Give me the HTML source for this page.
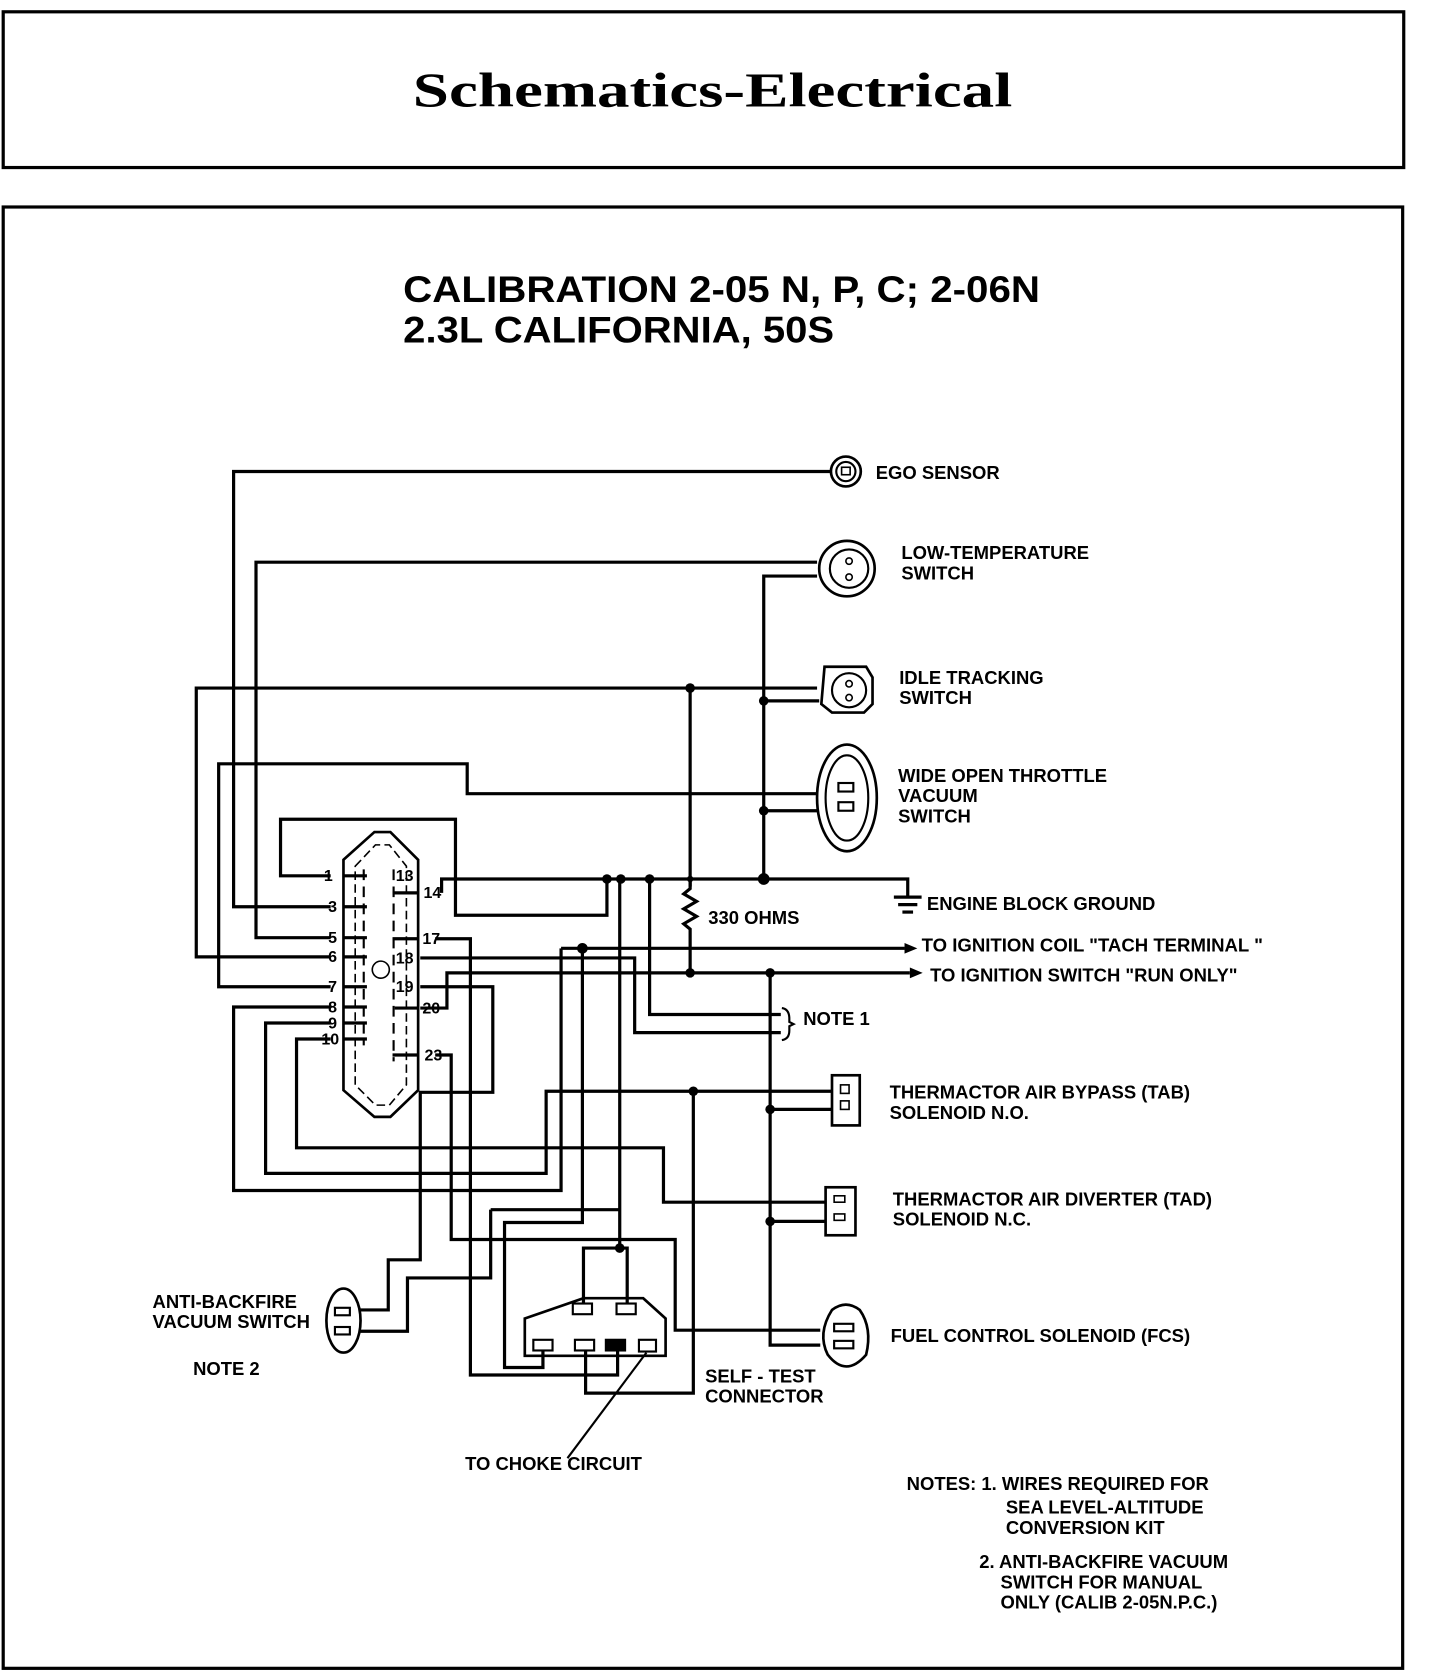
<!DOCTYPE html>
<html><head><meta charset="utf-8"><style>
html,body{margin:0;padding:0;background:#fff;}
svg{display:block}
text{font-family:"Liberation Sans",sans-serif;font-weight:bold;fill:#000}
</style></head><body>
<svg width="1440" height="1678" viewBox="0 0 1350 1573" xmlns="http://www.w3.org/2000/svg">
<rect x="0" y="0" width="1350" height="1573" fill="#fff"/>
<g fill="none" stroke="#000" stroke-width="3">
<rect x="3" y="11" width="1313" height="146"/>
<rect x="3" y="194" width="1312" height="1370"/>
</g>
<text x="668" y="100" text-anchor="middle" style="font-family:'Liberation Serif',serif;font-size:46px" textLength="562" lengthAdjust="spacingAndGlyphs">Schematics-Electrical</text>
<text x="378" y="283" style="font-size:35px" textLength="597" lengthAdjust="spacingAndGlyphs">CALIBRATION 2-05 N, P, C; 2-06N</text>
<text x="378" y="321" style="font-size:35px" textLength="404" lengthAdjust="spacingAndGlyphs">2.3L CALIFORNIA, 50S</text>

<g fill="none" stroke="#000" stroke-width="3" stroke-linejoin="miter">
<polyline points="310,821 263,821 263,768 427,768 427,858 569,858 569,824"/>
<polyline points="414,837 414,824 851,824 851,841"/>
<polyline points="310,850 219,850 219,442 780,442"/>
<polyline points="310,879 240,879 240,527 766,527"/>
<polyline points="766,540 716,540 716,824"/>
<polyline points="310,897 184,897 184,645 766,645"/>
<polyline points="716,657 768,657"/>
<line x1="647" y1="645" x2="647" y2="831"/>
<polyline points="310,925 205,925 205,716 438,716 438,744 770,744"/>
<polyline points="716,760 770,760"/>
<polyline points="647,826 647,833 641,838 653,845 641,852 653,859 641,866 647,871 647,912"/>
<polyline points="310,944 219,944 219,1116 526,1116 526,889"/>
<line x1="526" y1="889" x2="848" y2="889"/>
<polyline points="310,959 249,959 249,1100 512,1100 512,1023 780,1023"/>
<polyline points="310,974 278,974 278,1076 622,1076 622,1127 773,1127"/>
<polyline points="408,880 441,880 441,1289 579,1289 579,1264"/>
<polyline points="394,898 595,898 595,968 732,968"/>
<polyline points="609,824 609,951 732,951"/>
<polyline points="394,925 462,925 462,1024 394,1024 394,1181 364,1181 364,1228 338,1228"/>
<polyline points="394,945 419,945 419,912 853,912"/>
<polyline points="408,989 423,989 423,1162 633,1162 633,1247 769,1247"/>
<polyline points="722,912 722,1261 769,1261"/>
<line x1="722" y1="1040" x2="780" y2="1040"/>
<line x1="722" y1="1145" x2="773" y2="1145"/>
<polyline points="546,889 546,1146 473,1146 473,1282 509,1282 509,1264"/>
<polyline points="581,824 581,1170"/>
<polyline points="460,1134 581,1134"/>
<polyline points="460,1134 460,1198 382,1198 382,1248 338,1248"/>
<polyline points="547,1228 547,1170 588,1170 588,1228"/>
<polyline points="650,1023 650,1306 549,1306 549,1264"/>
<polygon points="492,1236 547,1217 603,1217 624,1236 624,1271 492,1271" stroke-width="2.5"/>
<line x1="606" y1="1268" x2="532" y2="1367" stroke-width="2"/>
<polygon points="322,806 351,780 366,780 392,806 392,1022 366,1047 351,1047 322,1022" stroke-width="2.5"/>
<polygon points="333,812 352,792 365,792 381,812 381,1017 365,1036 352,1036 333,1017" stroke-width="1.5" stroke-dasharray="8,4"/>
<circle cx="357" cy="909" r="8" stroke-width="1.5"/>
</g>
<g stroke="#000" stroke-width="3">
<line x1="322" y1="821" x2="344" y2="821"/><line x1="322" y1="850" x2="344" y2="850"/>
<line x1="322" y1="879" x2="344" y2="879"/><line x1="322" y1="897" x2="344" y2="897"/>
<line x1="322" y1="925" x2="344" y2="925"/><line x1="322" y1="944" x2="344" y2="944"/>
<line x1="322" y1="959" x2="344" y2="959"/><line x1="322" y1="974" x2="344" y2="974"/>
<line x1="368" y1="837" x2="392" y2="837"/><line x1="368" y1="880" x2="392" y2="880"/>
<line x1="370" y1="945" x2="392" y2="945"/><line x1="368" y1="989" x2="392" y2="989"/>
<line x1="341" y1="815" x2="341" y2="980" stroke-width="2" stroke-dasharray="10,6"/>
<line x1="369" y1="815" x2="369" y2="995" stroke-width="2" stroke-dasharray="10,6"/>
<line x1="838" y1="841" x2="864" y2="841"/><line x1="842" y1="848" x2="860" y2="848"/><line x1="846" y1="855" x2="856" y2="855"/>
</g>
<g style="font-size:15px">
<text x="312" y="826" text-anchor="end">1</text>
<text x="316" y="855" text-anchor="end">3</text>
<text x="316" y="884" text-anchor="end">5</text>
<text x="316" y="902" text-anchor="end">6</text>
<text x="316" y="930" text-anchor="end">7</text>
<text x="316" y="949" text-anchor="end">8</text>
<text x="316" y="964" text-anchor="end">9</text>
<text x="318" y="979" text-anchor="end">10</text>
<text x="371" y="826">13</text>
<text x="397" y="842">14</text>
<text x="396" y="885">17</text>
<text x="371" y="903">18</text>
<text x="371" y="930">19</text>
<text x="396" y="950">20</text>
<text x="398" y="994">23</text>
</g>
<g fill="#000">
<circle cx="569" cy="824" r="4.5"/><circle cx="582" cy="824" r="4.5"/><circle cx="609" cy="824" r="4.5"/>
<circle cx="647" cy="824" r="3"/><circle cx="716" cy="824" r="5.5"/>
<circle cx="647" cy="645" r="4.5"/><circle cx="716" cy="657" r="4.5"/><circle cx="716" cy="760" r="4.5"/>
<circle cx="546" cy="889" r="5"/><circle cx="647" cy="912" r="4.5"/><circle cx="722" cy="912" r="4.5"/>
<circle cx="650" cy="1023" r="4.5"/><circle cx="722" cy="1040" r="4.5"/><circle cx="722" cy="1145" r="4.5"/>
<circle cx="581" cy="1170" r="4.5"/>
<polygon points="848,884 860,889 848,894"/><polygon points="853,907 865,912 853,917"/>
</g>
<g fill="#fff" stroke="#000" stroke-width="2.5">
<circle cx="793" cy="442" r="14"/><circle cx="793" cy="442" r="9" stroke-width="2"/>
<rect x="789" y="438" width="8" height="7" stroke-width="1.5"/>
<circle cx="794" cy="533" r="26"/><circle cx="796" cy="533" r="18" stroke-width="2"/>
<circle cx="796" cy="526" r="3" stroke-width="1.5"/><circle cx="796" cy="541" r="3" stroke-width="1.5"/>
<path d="M773,625 L812,625 L818,635 L818,660 L810,668 L780,668 L770,660 Z"/>
<circle cx="796" cy="647" r="16" stroke-width="2"/>
<circle cx="796" cy="641" r="3" stroke-width="1.5"/><circle cx="796" cy="654" r="3" stroke-width="1.5"/>
<ellipse cx="794" cy="748" rx="28" ry="50"/><ellipse cx="794" cy="748" rx="20" ry="40" stroke-width="2"/>
<rect x="786" y="734" width="14" height="8" stroke-width="2"/><rect x="786" y="752" width="14" height="8" stroke-width="2"/>
<rect x="780" y="1008" width="26" height="47"/><rect x="788" y="1017" width="8" height="8" stroke-width="1.5"/><rect x="788" y="1032" width="8" height="8" stroke-width="1.5"/>
<rect x="774" y="1113" width="28" height="45"/><rect x="782" y="1121" width="10" height="6" stroke-width="1.5"/><rect x="782" y="1138" width="10" height="6" stroke-width="1.5"/>
<path d="M780,1228 Q793,1218 806,1228 Q818,1245 812,1270 Q793,1292 776,1270 Q766,1250 780,1228 Z"/>
<rect x="782" y="1241" width="18" height="7" stroke-width="2"/><rect x="782" y="1257" width="18" height="7" stroke-width="2"/>
<ellipse cx="322" cy="1238" rx="16" ry="30"/>
<rect x="314" y="1226" width="14" height="7" stroke-width="2"/><rect x="314" y="1244" width="14" height="7" stroke-width="2"/>
<rect x="537" y="1222" width="18" height="10" stroke-width="2"/><rect x="578" y="1222" width="18" height="10" stroke-width="2"/>
<rect x="500" y="1256" width="18" height="10" stroke-width="2"/><rect x="539" y="1256" width="18" height="10" stroke-width="2"/>
<rect x="568" y="1256" width="18" height="10" stroke-width="2" fill="#000"/><rect x="599" y="1256" width="16" height="11" stroke-width="2"/>
</g>
<path d="M733,945 Q740,946 740,955 L740,958 L744,960 L740,962 L740,966 Q740,974 733,975" fill="none" stroke="#000" stroke-width="2"/>
<g style="font-size:17.3px">
<text x="821" y="449">EGO SENSOR</text>
<text x="845" y="524">LOW-TEMPERATURE</text><text x="845" y="543">SWITCH</text>
<text x="843" y="641">IDLE TRACKING</text><text x="843" y="660">SWITCH</text>
<text x="842" y="733">WIDE OPEN THROTTLE</text><text x="842" y="752">VACUUM</text><text x="842" y="771">SWITCH</text>
<text x="869" y="853">ENGINE BLOCK GROUND</text>
<text x="664" y="866">330 OHMS</text>
<text x="864" y="892" textLength="320" lengthAdjust="spacingAndGlyphs">TO IGNITION COIL "TACH TERMINAL "</text>
<text x="872" y="920">TO IGNITION SWITCH "RUN ONLY"</text>
<text x="753" y="961">NOTE 1</text>
<text x="834" y="1030">THERMACTOR AIR BYPASS (TAB)</text><text x="834" y="1049">SOLENOID N.O.</text>
<text x="837" y="1130">THERMACTOR AIR DIVERTER (TAD)</text><text x="837" y="1149">SOLENOID N.C.</text>
<text x="835" y="1258">FUEL CONTROL SOLENOID (FCS)</text>
<text x="143" y="1226">ANTI-BACKFIRE</text><text x="143" y="1245">VACUUM SWITCH</text>
<text x="181" y="1289">NOTE 2</text>
<text x="661" y="1296">SELF - TEST</text><text x="661" y="1315">CONNECTOR</text>
<text x="436" y="1378">TO CHOKE CIRCUIT</text>
<text x="850" y="1397">NOTES: 1. WIRES REQUIRED FOR</text>
<text x="943" y="1419">SEA LEVEL-ALTITUDE</text>
<text x="943" y="1438">CONVERSION KIT</text>
<text x="918" y="1470">2. ANTI-BACKFIRE VACUUM</text>
<text x="938" y="1489">SWITCH FOR MANUAL</text>
<text x="938" y="1508">ONLY (CALIB 2-05N.P.C.)</text>
</g>
</svg>
</body></html>
